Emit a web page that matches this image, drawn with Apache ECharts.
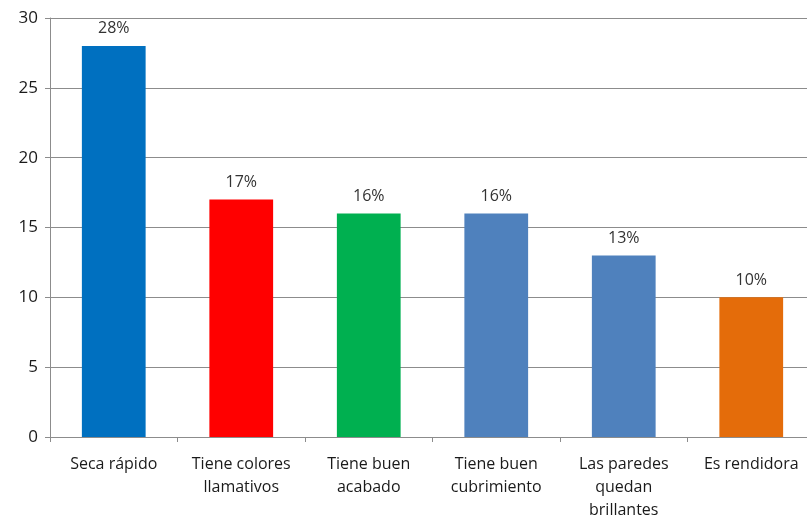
<!DOCTYPE html>
<html>
<head>
<meta charset="utf-8">
<script src="https://cdn.jsdelivr.net/npm/echarts@6/dist/echarts.min.js"></script>
<style>
  html, body { margin: 0; padding: 0; background: #fff; }
  #chart { width: 807px; height: 520px; }
</style>
</head>
<body>
<div id="chart"></div>
<script>
// Paint attributes: share of mentions per category
const categories = [
  'Seca rápido',
  'Tiene colores\nllamativos',
  'Tiene buen\nacabado',
  'Tiene buen\ncubrimiento',
  'Las paredes\nquedan\nbrillantes',
  'Es rendidora'
];
const values = [28, 17, 16, 16, 13, 10];
const barColors = ['#0070C0', '#FF0000', '#00B050', '#4F81BD', '#4F81BD', '#E46C0A'];
const yTicks = { min: 0, max: 30, interval: 5 };

const font = '"Open Sans", "Noto Sans", sans-serif';
const chart = echarts.init(document.getElementById('chart'));
chart.setOption({
  animation: false,
  // plot area runs slightly past the right edge of the canvas
  grid: { left: 50, width: 765, top: 18, height: 419, containLabel: false, outerBoundsMode: 'none' },
  xAxis: {
    type: 'category',
    data: categories,
    axisLine: { lineStyle: { color: '#8c8c8c', width: 1 } },
    axisTick: { show: true, length: 5, lineStyle: { color: '#8c8c8c' } },
    axisLabel: {
      color: '#1a1a1a', fontFamily: font, fontSize: 16,
      lineHeight: 23, margin: 16, interval: 0
    }
  },
  yAxis: {
    type: 'value',
    min: yTicks.min, max: yTicks.max, interval: yTicks.interval,
    axisLine: { show: true, lineStyle: { color: '#8c8c8c' } },
    axisTick: { show: true, length: 5, lineStyle: { color: '#8c8c8c' } },
    splitLine: { lineStyle: { color: '#8c8c8c', width: 1 } },
    axisLabel: { color: '#1a1a1a', fontFamily: font, fontSize: 17, margin: 12 }
  },
  series: [{
    type: 'bar',
    data: values.map((v, i) => ({ value: v, itemStyle: { color: barColors[i] } })),
    barWidth: '50%',
    label: {
      show: true, position: 'top', distance: 9,
      formatter: '{c}%',
      color: '#333', fontFamily: font, fontSize: 16
    }
  }]
});
</script>
</body>
</html>
